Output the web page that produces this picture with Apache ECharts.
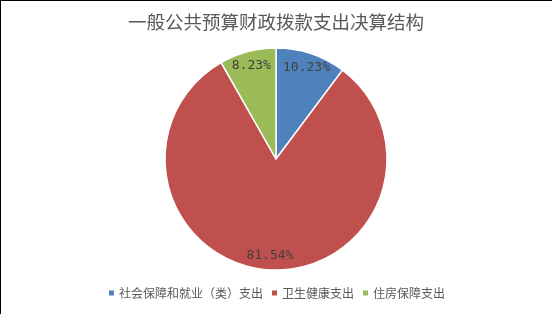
<!DOCTYPE html>
<html>
<head>
<meta charset="utf-8">
<script src="https://cdn.jsdelivr.net/npm/echarts@6/dist/echarts.min.js"></script>
<style>
  html, body { margin: 0; padding: 0; background: #fff; }
  #chart { width: 552px; height: 314px; }
</style>
</head>
<body>
<div id="chart"></div>
<script>
// Spending categories and their shares (%)
const categories = ['社会保障和就业（类）支出', '卫生健康支出', '住房保障支出'];
const shares = [10.23, 81.54, 8.23];
const colors = ['#4F81BD', '#C0504D', '#9BBB59'];
const titleText = '一般公共预算财政拨款支出决算结构';

const pieData = categories.map((name, i) => ({
  name: name,
  value: shares[i],
  itemStyle: { color: colors[i] }
}));

const chart = echarts.init(document.getElementById('chart'), null, { renderer: 'canvas' });
const font = '"Noto Sans CJK SC", "Noto Sans", sans-serif';

chart.setOption({
  backgroundColor: '#fff',
  animation: false,
  title: {
    text: titleText,
    left: 'center',
    top: 8,
    textStyle: { fontFamily: font, fontSize: 18.5, fontWeight: 'normal', color: '#595959' }
  },
  legend: {
    data: categories,
    bottom: 10,
    left: 'center',
    icon: 'rect',
    itemWidth: 7,
    itemHeight: 7,
    itemGap: 7,
    textStyle: { fontFamily: font, fontSize: 12, color: '#595959', padding: [0, 0, 0, -1] }
  },
  graphic: [
    { type: 'line', shape: { x1: 0, y1: 0.5, x2: 552, y2: 0.5 }, style: { stroke: '#000', lineWidth: 1 } },
    { type: 'line', shape: { x1: 0.5, y1: 0, x2: 0.5, y2: 314 }, style: { stroke: '#000', lineWidth: 1 } }
  ],
  series: [
    {
      type: 'pie',
      center: [276, 159],
      radius: 111,
      startAngle: 90,
      clockwise: true,
      data: pieData,
      itemStyle: { borderColor: '#fff', borderWidth: 1.5 },
      label: { show: false },
      labelLine: { show: false },
      silent: true
    },
    {
      // transparent ring that only carries the percentage labels near the rim
      type: 'pie',
      center: [276, 159],
      radius: [76, 111],
      startAngle: 90,
      clockwise: true,
      data: pieData.map(d => ({ name: d.name, value: d.value })),
      itemStyle: { color: 'rgba(0,0,0,0)' },
      label: {
        show: true,
        position: 'inside',
        formatter: p => p.value.toFixed(2) + '%',
        fontFamily: '"DejaVu Sans Mono", monospace',
        fontSize: 13,
        color: '#404040'
      },
      labelLine: { show: false },
      silent: true,
      legendHoverLink: false
    }
  ]
});
</script>
</body>
</html>
